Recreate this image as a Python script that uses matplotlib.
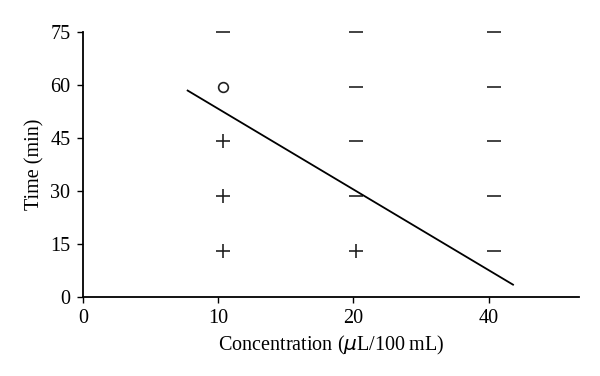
import matplotlib
matplotlib.use("Agg")
import matplotlib.pyplot as plt

plt.rcParams['font.family'] = ['Liberation Serif', 'DejaVu Serif']

# Category axis
tick_labels = ["0", "10", "20", "40"]
tick_pos = [0, 1, 2, 3]

# Observations by column (category position) and row time
col_10 = 1.04
col_20 = 2.02
col_40 = 3.04
row_times = [75, 59.3, 44.0, 28.4, 13.0]
symbols_10 = ["-", "o", "+", "+", "+"]
symbols_20 = ["-", "-", "-", "-", "+"]
symbols_40 = ["-", "-", "-", "-", "-"]

# Fitted line endpoints
line_x = [0.775, 3.18]
line_y = [58.4, 3.4]

fig = plt.figure(figsize=(6.0, 3.76), dpi=100)
ax = fig.add_axes([0.138, 0.211, 0.8275, 0.704])

mk = {"-": dict(marker='_', ms=10, mew=1.2, mfc='none'),
      "+": dict(marker='+', ms=10, mew=1.2, mfc='none'),
      "o": dict(marker='o', ms=7, mew=1.2, mfc='none')}

for xc, syms in [(col_10, symbols_10), (col_20, symbols_20), (col_40, symbols_40)]:
    for s, t in zip(syms, row_times):
        ax.plot([xc], [t], linestyle='none', color='#222222', clip_on=False, **mk[s])

ax.plot(line_x, line_y, color='black', lw=1.3)

ax.set_xlim(0, 3.67)
ax.set_ylim(0, 75)
ax.set_xticks(tick_pos)
ax.set_xticklabels(tick_labels)
ax.set_yticks([0, 15, 30, 45, 60, 75])
ax.spines['top'].set_visible(False)
ax.spines['right'].set_visible(False)
ax.spines['left'].set_linewidth(1.3)
ax.spines['bottom'].set_linewidth(1.3)
ax.tick_params(axis='both', labelsize=14.5, length=4, width=1.0, direction='out', pad=5)
ax.set_xlabel("Concentration ($\\mu$L/100\u2009mL)", fontsize=14.5, labelpad=4)
ax.set_ylabel("Time (min)", fontsize=14.5, labelpad=4)

fig.savefig("out.png", dpi=100)
